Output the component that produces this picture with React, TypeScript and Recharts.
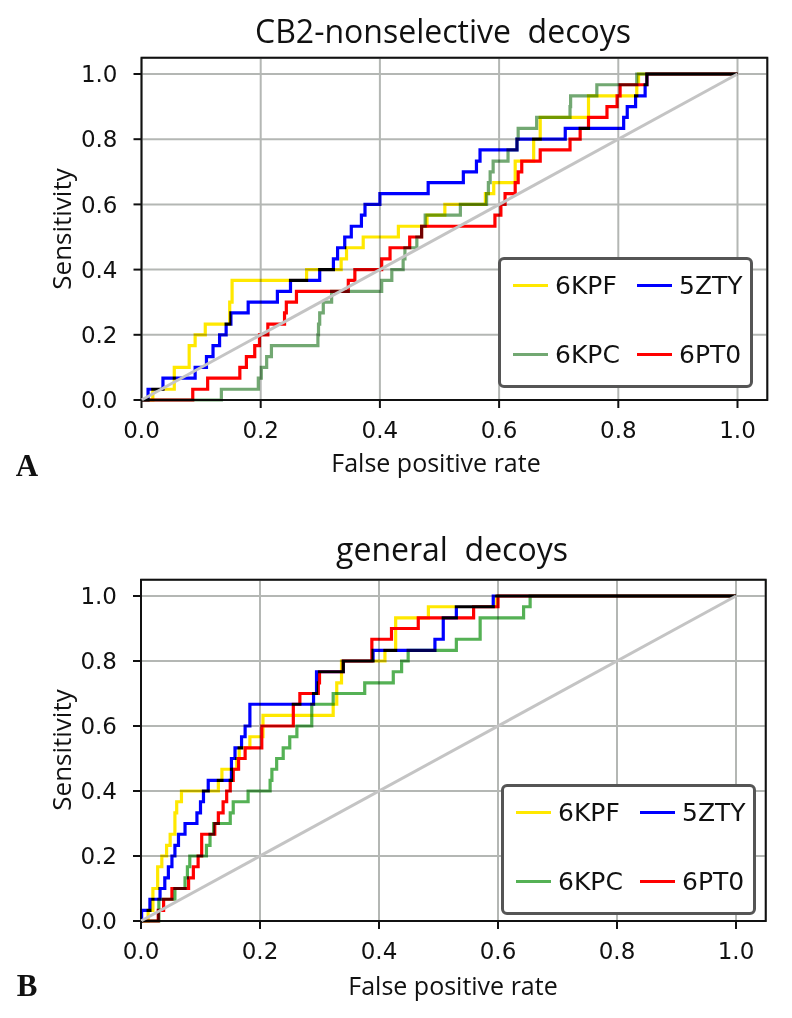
import React from 'react';
import { LineChart, Line, XAxis, YAxis, CartesianGrid, ReferenceArea } from 'recharts';

// axis ticks shared by both panels
const axisTicks = [0, 0.2, 0.4, 0.6, 0.8, 1.0];
const chanceX = [0, 1];
const chanceY = [0, 1];

// panel A: CB2-nonselective decoys
const aKpfX = [0, 0.019, 0.055, 0.08, 0.09, 0.107, 0.148, 0.152, 0.277, 0.335, 0.344, 0.372, 0.431, 0.479, 0.509, 0.577, 0.591, 0.627, 0.658, 0.669, 0.75, 0.831, 0.834, 1];
const aKpfY = [0, 0.033, 0.1, 0.167, 0.2, 0.233, 0.3, 0.367, 0.4, 0.433, 0.467, 0.5, 0.533, 0.567, 0.6, 0.633, 0.667, 0.733, 0.8, 0.867, 0.933, 0.967, 1, 1];
const aZtyX = [0, 0.011, 0.036, 0.09, 0.109, 0.12, 0.131, 0.142, 0.15, 0.179, 0.228, 0.25, 0.299, 0.322, 0.329, 0.341, 0.352, 0.369, 0.375, 0.4, 0.481, 0.54, 0.562, 0.568, 0.63, 0.711, 0.809, 0.815, 0.829, 0.845, 0.848, 1];
const aZtyY = [0, 0.033, 0.067, 0.1, 0.133, 0.167, 0.2, 0.233, 0.267, 0.3, 0.333, 0.367, 0.4, 0.433, 0.467, 0.5, 0.533, 0.567, 0.6, 0.633, 0.667, 0.7, 0.733, 0.767, 0.8, 0.833, 0.867, 0.9, 0.933, 0.967, 1, 1];
const aKpcX = [0, 0.134, 0.196, 0.201, 0.21, 0.218, 0.296, 0.297, 0.299, 0.305, 0.319, 0.403, 0.42, 0.439, 0.442, 0.462, 0.47, 0.476, 0.535, 0.579, 0.582, 0.585, 0.59, 0.615, 0.63, 0.632, 0.663, 0.719, 0.72, 0.764, 0.831, 1];
const aKpcY = [0, 0.033, 0.067, 0.1, 0.133, 0.167, 0.2, 0.233, 0.267, 0.3, 0.333, 0.367, 0.4, 0.433, 0.467, 0.5, 0.533, 0.567, 0.6, 0.633, 0.667, 0.7, 0.733, 0.767, 0.8, 0.833, 0.867, 0.9, 0.933, 0.967, 1, 1];
const aPtX = [0, 0.086, 0.111, 0.165, 0.176, 0.19, 0.198, 0.212, 0.24, 0.243, 0.26, 0.347, 0.358, 0.403, 0.417, 0.45, 0.47, 0.593, 0.603, 0.61, 0.627, 0.632, 0.638, 0.669, 0.719, 0.736, 0.75, 0.781, 0.798, 0.803, 0.848, 1];
const aPtY = [0, 0.033, 0.067, 0.1, 0.133, 0.167, 0.2, 0.233, 0.267, 0.3, 0.333, 0.367, 0.4, 0.433, 0.467, 0.5, 0.533, 0.567, 0.6, 0.633, 0.667, 0.7, 0.733, 0.767, 0.8, 0.833, 0.867, 0.9, 0.933, 0.967, 1, 1];

// panel B: general decoys
const bKpfX = [0, 0.012, 0.02, 0.028, 0.035, 0.043, 0.049, 0.057, 0.06, 0.068, 0.13, 0.136, 0.161, 0.165, 0.183, 0.205, 0.323, 0.329, 0.337, 0.41, 0.428, 0.483, 0.598, 1];
const bKpfY = [0, 0.033, 0.1, 0.167, 0.2, 0.233, 0.267, 0.333, 0.367, 0.4, 0.433, 0.467, 0.5, 0.533, 0.567, 0.633, 0.667, 0.733, 0.8, 0.833, 0.933, 0.967, 1, 1];
const bZtyX = [0, 0.001, 0.015, 0.032, 0.04, 0.046, 0.052, 0.057, 0.063, 0.074, 0.094, 0.1, 0.105, 0.113, 0.152, 0.158, 0.169, 0.175, 0.183, 0.29, 0.295, 0.34, 0.39, 0.494, 0.508, 0.53, 0.592, 1];
const bZtyY = [0, 0.033, 0.067, 0.1, 0.133, 0.167, 0.2, 0.233, 0.267, 0.3, 0.333, 0.367, 0.4, 0.433, 0.5, 0.533, 0.567, 0.6, 0.667, 0.7, 0.767, 0.8, 0.833, 0.867, 0.933, 0.967, 1, 1];
const bKpcX = [0, 0.03, 0.057, 0.074, 0.078, 0.082, 0.11, 0.116, 0.122, 0.15, 0.155, 0.18, 0.217, 0.22, 0.228, 0.239, 0.25, 0.262, 0.287, 0.323, 0.376, 0.424, 0.438, 0.449, 0.53, 0.57, 0.643, 0.654, 1];
const bKpcY = [0, 0.067, 0.1, 0.133, 0.167, 0.2, 0.233, 0.267, 0.3, 0.333, 0.367, 0.4, 0.433, 0.467, 0.5, 0.533, 0.567, 0.6, 0.667, 0.7, 0.733, 0.767, 0.8, 0.833, 0.867, 0.933, 0.967, 1, 1];
const bPtX = [0, 0.029, 0.038, 0.052, 0.08, 0.088, 0.096, 0.102, 0.124, 0.13, 0.138, 0.144, 0.15, 0.155, 0.164, 0.175, 0.203, 0.256, 0.267, 0.298, 0.3, 0.34, 0.388, 0.421, 0.466, 0.559, 0.6, 1];
const bPtY = [0, 0.033, 0.067, 0.1, 0.133, 0.167, 0.2, 0.267, 0.3, 0.333, 0.367, 0.4, 0.433, 0.467, 0.5, 0.533, 0.6, 0.667, 0.7, 0.733, 0.767, 0.8, 0.867, 0.9, 0.933, 0.967, 1, 1];

const YELLOW = '#ffe800';
const BLUE = '#0000ff';
const RED = '#ff0000';

const toPoints = (xs: number[], ys: number[]) => xs.map((x, i) => ({ x, y: ys[i] }));

type Curve = { name: string; color: string; xs: number[]; ys: number[] };

const TICK = { fill: '#111', fontSize: 23, fontFamily: 'DejaVu Sans' };

function RocPanel({ curves, height, margin }: { curves: Curve[]; height: number; margin: any }) {
  return (
    <LineChart width={792} height={height} margin={margin}>
      <CartesianGrid stroke="#b4b7b4" strokeWidth={2} />
      <XAxis
        type="number"
        dataKey="x"
        domain={[0, 1.05]}
        ticks={axisTicks}
        tickFormatter={(v: number) => v.toFixed(1)}
        height={60}
        tickSize={8}
        tickMargin={14}
        axisLine={false}
        tickLine={{ stroke: '#111', strokeWidth: 2 }}
        tick={TICK}
      />
      <YAxis
        type="number"
        dataKey="y"
        domain={[0, 1.05]}
        ticks={axisTicks}
        tickFormatter={(v: number) => v.toFixed(1)}
        width={100}
        tickSize={8}
        tickMargin={16}
        axisLine={false}
        tickLine={{ stroke: '#111', strokeWidth: 2 }}
        tick={TICK}
      />
      {curves.map((c) => (
        <Line
          key={c.name}
          className="roc-curve"
          data={toPoints(c.xs, c.ys)}
          dataKey="y"
          type="stepAfter"
          stroke={c.color}
          strokeWidth={3.2}
          dot={false}
          activeDot={false}
          isAnimationActive={false}
        />
      ))}
      <Line
        data={toPoints(chanceX, chanceY)}
        dataKey="y"
        type="linear"
        stroke="#c4c4c4"
        strokeWidth={3}
        dot={false}
        activeDot={false}
        isAnimationActive={false}
      />
      <ReferenceArea x1={0} x2={1.05} y1={0} y2={1.05} fill="none" stroke="#111" strokeWidth={2} ifOverflow="visible" />
    </LineChart>
  );
}

function RocLegend({ left, top, curves }: { left: number; top: number; curves: Curve[] }) {
  const cells = [
    { c: curves[0], col: 0, row: 0 },
    { c: curves[1], col: 1, row: 0 },
    { c: curves[2], col: 0, row: 1 },
    { c: curves[3], col: 1, row: 1 },
  ];
  return (
    <div
      style={{
        position: 'absolute', left, top, width: 255, height: 131, boxSizing: 'border-box',
        border: '3px solid #555', borderRadius: 6, background: '#fff',
      }}
    >
      {cells.map(({ c, col, row }) => (
        <div key={c.name} style={{ position: 'absolute', left: 12 + col * 124, top: 25 + row * 69 }}>
          <div style={{ position: 'absolute', left: 0, top: -1.5, width: 35, height: 3, background: c.color }} />
          <div
            style={{
              position: 'absolute', left: 42, top: 0, transform: 'translateY(-50%)',
              fontFamily: 'DejaVu Sans', fontSize: 25, color: '#111', lineHeight: 1, whiteSpace: 'nowrap',
            }}
          >
            {c.name}
          </div>
        </div>
      ))}
    </div>
  );
}

const textBase: React.CSSProperties = {
  position: 'absolute', transform: 'translate(-50%, -50%)', whiteSpace: 'pre', color: '#111', lineHeight: 1,
};
const LABEL = 'Open Sans';

export default function App() {
  const curvesA: Curve[] = [
    { name: '6KPF', color: YELLOW, xs: aKpfX, ys: aKpfY },
    { name: '5ZTY', color: BLUE, xs: aZtyX, ys: aZtyY },
    { name: '6KPC', color: '#72a872', xs: aKpcX, ys: aKpcY },
    { name: '6PT0', color: RED, xs: aPtX, ys: aPtY },
  ];
  const curvesB: Curve[] = [
    { name: '6KPF', color: YELLOW, xs: bKpfX, ys: bKpfY },
    { name: '5ZTY', color: BLUE, xs: bZtyX, ys: bZtyY },
    { name: '6KPC', color: '#55b155', xs: bKpcX, ys: bKpcY },
    { name: '6PT0', color: RED, xs: bPtX, ys: bPtY },
  ];
  return (
    <div style={{ position: 'absolute', left: 0, top: 0, width: 792, height: 1018, background: '#fff', overflow: 'hidden' }}>
      <style>{'.roc-curve { mix-blend-mode: multiply; }'}</style>

      <div style={{ position: 'absolute', left: 0, top: 0 }}>
        <RocPanel curves={curvesA} height={520} margin={{ top: 57.7, right: 24.7, bottom: 60, left: 41.5 }} />
      </div>
      <div style={{ position: 'absolute', left: 0, top: 520 }}>
        <RocPanel curves={curvesB} height={498} margin={{ top: 59.75, right: 26.25, bottom: 37, left: 41 }} />
      </div>

      <RocLegend left={498} top={257} curves={curvesA} />
      <RocLegend left={501} top={784} curves={curvesB} />

      <div style={{ ...textBase, left: 443, top: 31, fontFamily: LABEL, fontSize: 32 }}>CB2-nonselective  decoys</div>
      <div style={{ ...textBase, left: 452, top: 549, fontFamily: LABEL, fontSize: 32 }}>general  decoys</div>

      <div style={{ ...textBase, left: 61, top: 229, fontFamily: LABEL, fontSize: 26, transform: 'translate(-50%, -50%) rotate(-90deg)' }}>Sensitivity</div>
      <div style={{ ...textBase, left: 61, top: 750, fontFamily: LABEL, fontSize: 26, transform: 'translate(-50%, -50%) rotate(-90deg)' }}>Sensitivity</div>

      <div style={{ ...textBase, left: 436, top: 462, fontFamily: LABEL, fontSize: 25 }}>False positive rate</div>
      <div style={{ ...textBase, left: 453, top: 985, fontFamily: LABEL, fontSize: 25 }}>False positive rate</div>

      <div style={{ ...textBase, left: 27, top: 465, fontFamily: 'Liberation Serif', fontWeight: 'bold', fontSize: 31 }}>A</div>
      <div style={{ ...textBase, left: 27, top: 985, fontFamily: 'Liberation Serif', fontWeight: 'bold', fontSize: 31 }}>B</div>
    </div>
  );
}
